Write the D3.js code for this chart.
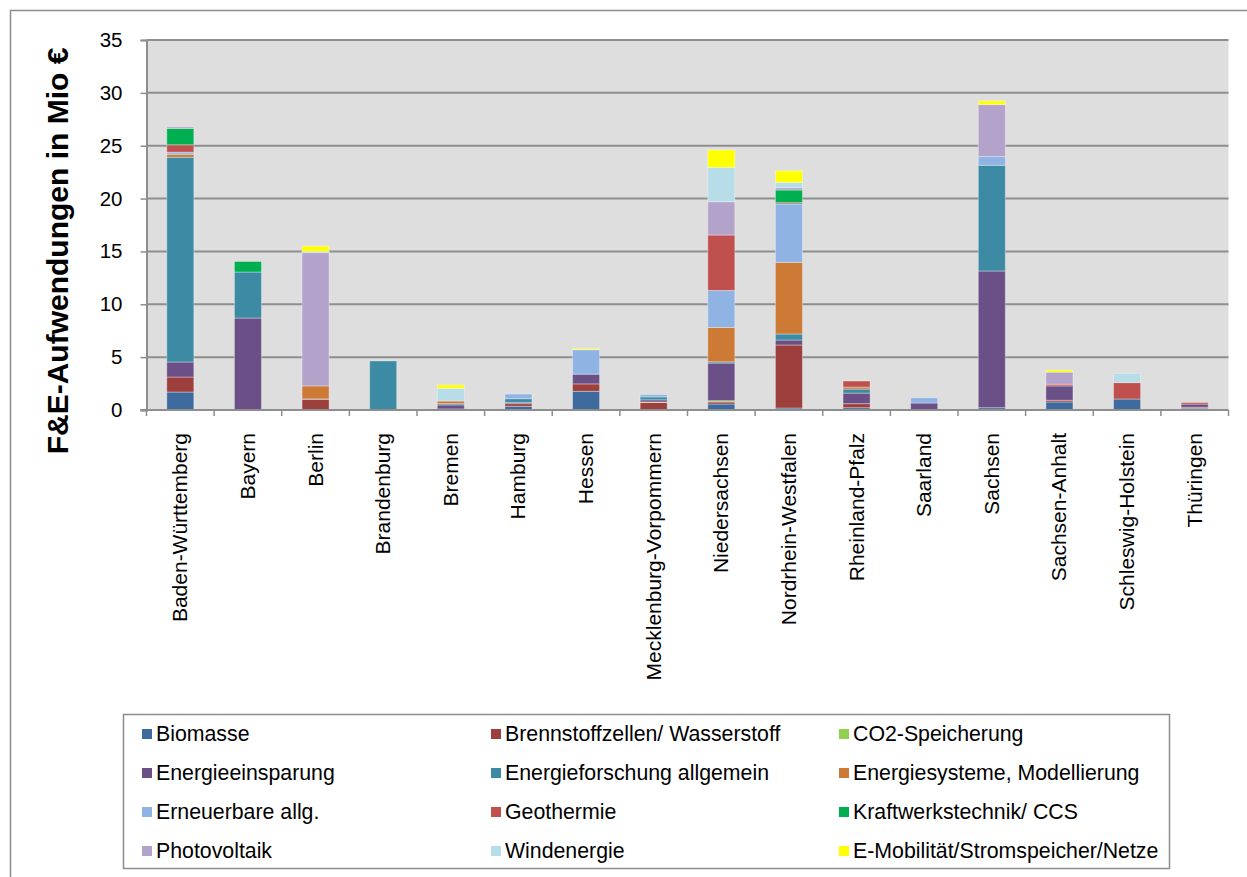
<!DOCTYPE html>
<html>
<head>
<meta charset="utf-8">
<script src="https://cdn.jsdelivr.net/npm/d3@7"></script>
<style>
  body { margin: 0; background: #fff; }
  text { font-family: Arial, "Liberation Sans", sans-serif; }
</style>
</head>
<body>
<div id="chart"></div>
<script>
const width = 1247;
const height = 877;

const states = ["Baden-Württemberg", "Bayern", "Berlin", "Brandenburg", "Bremen", "Hamburg", "Hessen",
    "Mecklenburg-Vorpommern", "Niedersachsen", "Nordrhein-Westfalen", "Rheinland-Pfalz", "Saarland",
    "Sachsen", "Sachsen-Anhalt", "Schleswig-Holstein", "Thüringen"];

const seriesNames = ["Biomasse", "Brennstoffzellen/ Wasserstoff", "CO2-Speicherung",
    "Energieeinsparung", "Energieforschung allgemein", "Energiesysteme, Modellierung",
    "Erneuerbare allg.", "Geothermie", "Kraftwerkstechnik/ CCS",
    "Photovoltaik", "Windenergie", "E-Mobilität/Stromspeicher/Netze"];

const seriesColors = ["#3F6A9E", "#9C3F3D", "#92D050", "#6A5087", "#3C8AA3", "#CD7A37",
    "#8FB3E2", "#C0504D", "#00B050", "#B3A2C9", "#B7DDE8", "#FFFF00"];

// values in Mio €, one array per series, same order as states
const biomasse        = [1.7, 0, 0, 0, 0.1, 0.35, 1.77, 0.05, 0.57, 0.19, 0.22, 0, 0.22, 0.76, 1.04, 0.16];
const brennstoff      = [1.42, 0, 1.0, 0, 0, 0.25, 0.7, 0.66, 0.19, 5.96, 0.38, 0, 0, 0.16, 0, 0.1];
const co2             = [0, 0, 0, 0, 0, 0, 0, 0.05, 0.12, 0, 0, 0, 0, 0, 0, 0];
const einsparung      = [1.42, 8.7, 0.05, 0, 0.38, 0.12, 0.92, 0.2, 3.56, 0.47, 1.0, 0.66, 12.93, 1.36, 0, 0.3];
const forschung       = [19.37, 4.35, 0, 4.64, 0.12, 0.35, 0, 0.28, 0.12, 0.57, 0.38, 0, 10.0, 0, 0, 0];
const systeme         = [0.28, 0, 1.23, 0, 0.25, 0, 0, 0, 3.25, 6.78, 0.19, 0, 0, 0, 0, 0];
const erneuerbare     = [0.2, 0, 0, 0, 0, 0.44, 2.31, 0.22, 3.5, 5.52, 0, 0.5, 0.82, 0, 0, 0];
const geothermie      = [0.7, 0, 0, 0, 0, 0, 0, 0, 5.24, 0.12, 0.57, 0, 0, 0.16, 1.55, 0.15];
const kraftwerk       = [1.55, 1.0, 0, 0, 0, 0, 0, 0, 0, 1.2, 0, 0, 0, 0, 0, 0];
const photovoltaik    = [0.15, 0, 12.6, 0, 0, 0, 0, 0, 3.15, 0.22, 0, 0, 4.92, 1.14, 0, 0];
const windenergie     = [0, 0, 0.12, 0, 1.2, 0, 0, 0, 3.25, 0.5, 0, 0, 0, 0, 0.88, 0];
const emobil          = [0, 0, 0.5, 0, 0.32, 0, 0.1, 0, 1.64, 1.1, 0, 0, 0.35, 0.19, 0, 0];

const yTicks = [0, 5, 10, 15, 20, 25, 30, 35];

const allSeries = [biomasse, brennstoff, co2, einsparung, forschung, systeme,
    erneuerbare, geothermie, kraftwerk, photovoltaik, windenergie, emobil];

// table for d3.stack
const table = states.map((s, i) => {
    const row = { state: s };
    seriesNames.forEach((n, k) => row[n] = allSeries[k][i]);
    return row;
});

const plot = { left: 146.5, right: 1228.5, top: 40, bottom: 410 };

const svg = d3.select("#chart")
    .append("svg")
    .attr("width", width)
    .attr("height", height);

// outer chart border
svg.append("rect")
    .attr("x", 10.5).attr("y", 10.5)
    .attr("width", width + 20).attr("height", height + 20)
    .attr("fill", "#fff")
    .attr("stroke", "#8c8c8c")
    .attr("stroke-width", 1.5);

const x = d3.scaleBand()
    .domain(states)
    .range([plot.left, plot.right])
    .paddingInner(0.6)
    .paddingOuter(0.3);

const xBand = d3.scaleBand().domain(states).range([plot.left, plot.right]);

const y = d3.scaleLinear()
    .domain([0, 35])
    .range([plot.bottom, plot.top]);

svg.append("rect")
    .attr("x", plot.left).attr("y", plot.top)
    .attr("width", plot.right - plot.left)
    .attr("height", plot.bottom - plot.top)
    .attr("fill", "#DEDEDE");

// gridlines
svg.append("g")
    .selectAll("line")
    .data(yTicks.slice(1))
    .enter()
    .append("line")
    .attr("x1", plot.left).attr("x2", plot.right)
    .attr("y1", d => y(d)).attr("y2", d => y(d))
    .attr("stroke", "#8e8e8e")
    .attr("stroke-width", 2);

// bars
const stacked = d3.stack().keys(seriesNames)(table);

svg.append("g")
    .selectAll("g")
    .data(stacked)
    .enter()
    .append("g")
    .attr("fill", (d, i) => seriesColors[i])
    .selectAll("rect")
    .data(d => d.filter(p => p[1] - p[0] > 0))
    .enter()
    .append("rect")
    .attr("x", d => x(d.data.state))
    .attr("width", x.bandwidth())
    .attr("y", d => y(d[1]))
    .attr("height", d => y(d[0]) - y(d[1]))
    .attr("stroke", "rgba(255,255,255,0.35)")
    .attr("stroke-width", 1);

// y axis
const yAxis = svg.append("g")
    .attr("transform", `translate(${plot.left},0)`)
    .call(d3.axisLeft(y).tickValues(yTicks).tickSize(6).tickPadding(18));
yAxis.select(".domain").attr("stroke", "#8e8e8e").attr("stroke-width", 2);
yAxis.selectAll(".tick line").attr("stroke", "#8e8e8e").attr("stroke-width", 1.5);
yAxis.selectAll(".tick text")
    .attr("font-size", 20.5)
    .attr("fill", "#000")
    .style("font-family", "Arial, 'Liberation Sans', sans-serif");

// x axis line and ticks at category boundaries
svg.append("line")
    .attr("x1", plot.left - 6).attr("x2", plot.right)
    .attr("y1", plot.bottom).attr("y2", plot.bottom)
    .attr("stroke", "#8e8e8e").attr("stroke-width", 2);

const boundaries = states.map(s => xBand(s)).concat([plot.right]);
svg.append("g")
    .selectAll("line")
    .data(boundaries)
    .enter()
    .append("line")
    .attr("x1", d => d).attr("x2", d => d)
    .attr("y1", plot.bottom).attr("y2", plot.bottom + 6)
    .attr("stroke", "#8e8e8e").attr("stroke-width", 1.5);

svg.append("g")
    .selectAll("text")
    .data(states)
    .enter()
    .append("text")
    .attr("transform", d => `translate(${xBand(d) + xBand.bandwidth() / 2 + 7},433) rotate(-90)`)
    .attr("text-anchor", "end")
    .attr("font-size", 21)
    .attr("fill", "#000")
    .text(d => d);

// y axis title
svg.append("text")
    .attr("transform", "translate(68,251) rotate(-90)")
    .attr("text-anchor", "middle")
    .attr("font-size", 30)
    .attr("font-weight", "bold")
    .attr("fill", "#000")
    .text("F&E-Aufwendungen in Mio €");

// legend
svg.append("rect")
    .attr("x", 123.5).attr("y", 714.5)
    .attr("width", 1046).attr("height", 154)
    .attr("fill", "#fff")
    .attr("stroke", "#8c8c8c")
    .attr("stroke-width", 1.5);

const legendCols = [142, 491, 839];
const legendRows = [734, 773, 812, 851];

const legend = svg.append("g")
    .selectAll("g")
    .data(seriesNames)
    .enter()
    .append("g")
    .attr("transform", (d, i) => `translate(${legendCols[i % 3]},${legendRows[Math.floor(i / 3)]})`);

legend.append("rect")
    .attr("x", 0).attr("y", -5)
    .attr("width", 10).attr("height", 10)
    .attr("fill", (d, i) => seriesColors[i]);

legend.append("text")
    .attr("x", 14)
    .attr("dy", "0.35em")
    .attr("font-size", 21.3)
    .attr("fill", "#000")
    .text(d => d);
</script>
</body>
</html>
